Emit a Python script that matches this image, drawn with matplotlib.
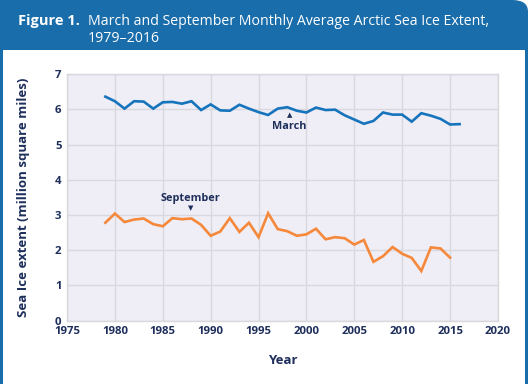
import matplotlib
matplotlib.use("Agg")
import matplotlib.pyplot as plt
from matplotlib.patches import FancyBboxPatch, Rectangle
from matplotlib.lines import Line2D

years_march = list(range(1979, 2017))
march = [6.36, 6.23, 6.02, 6.23, 6.22, 6.02, 6.20, 6.21, 6.16, 6.23,
         5.98, 6.14, 5.97, 5.96, 6.13, 6.02, 5.92, 5.84, 6.02, 6.06,
         5.96, 5.91, 6.05, 5.98, 5.99, 5.83, 5.71, 5.59, 5.67, 5.91,
         5.85, 5.85, 5.65, 5.89, 5.82, 5.73, 5.57, 5.58]
years_sept = list(range(1979, 2016))
september = [2.78, 3.04, 2.80, 2.87, 2.90, 2.74, 2.68, 2.91, 2.88, 2.90,
             2.72, 2.41, 2.53, 2.91, 2.52, 2.78, 2.37, 3.05, 2.60, 2.54,
             2.41, 2.45, 2.61, 2.31, 2.37, 2.34, 2.16, 2.29, 1.67, 1.83,
             2.09, 1.90, 1.78, 1.41, 2.08, 2.05, 1.79]
x_ticks = [1975, 1980, 1985, 1990, 1995, 2000, 2005, 2010, 2015, 2020]
y_ticks = [0, 1, 2, 3, 4, 5, 6, 7]

NAVY = "#1e2f5c"
HEADER = "#1a6dab"
BG = "#efedf5"
GRID = "#d9d8dc"
BLUE = "#1674bc"
ORANGE = "#f5883a"
FONT = ["Open Sans", "DejaVu Sans"]

fig = plt.figure(figsize=(5.28, 3.84), dpi=100)
fig.patch.set_facecolor("white")

# side borders
for xf in (0.002, 0.997):
    fig.add_artist(Line2D([xf, xf], [0, 0.95], transform=fig.transFigure,
                          color=HEADER, linewidth=2.2, zorder=0))
# header with rounded top-right corner
fig.add_artist(FancyBboxPatch((0.0, 0.870), 1.0, 0.130, boxstyle="round,pad=0,rounding_size=0.03",
                              transform=fig.transFigure, facecolor=HEADER, edgecolor="none", zorder=1))
fig.add_artist(Rectangle((0.0, 0.870), 0.5, 0.130, transform=fig.transFigure,
                         facecolor=HEADER, edgecolor="none", zorder=1))
fig.add_artist(Rectangle((0.0, 0.870), 1.0, 0.06, transform=fig.transFigure,
                         facecolor=HEADER, edgecolor="none", zorder=1))
fig.text(0.034, 0.945, "Figure 1.", color="white", fontsize=10.5, fontweight="bold",
         family=FONT, va="center", ha="left", zorder=2)
fig.text(0.166, 0.945, "March and September Monthly Average Arctic Sea Ice Extent,",
         color="white", fontsize=10.2, family=FONT, va="center", ha="left", zorder=2)
fig.text(0.166, 0.9, "1979\u20132016", color="white", fontsize=10.2, family=FONT,
         va="center", ha="left", zorder=2)

ax = fig.add_axes([0.127, 0.165, 0.816, 0.642])
ax.set_facecolor(BG)
ax.plot(years_march, march, color=BLUE, linewidth=1.9, solid_joinstyle="miter", zorder=3)
ax.plot(years_sept, september, color=ORANGE, linewidth=1.9, solid_joinstyle="miter", zorder=3)

ax.set_xlim(1975, 2020)
ax.set_ylim(0, 7)
ax.set_xticks(x_ticks)
ax.set_yticks(y_ticks)
ax.grid(True, color=GRID, linewidth=1)
ax.set_axisbelow(True)
for s in ax.spines.values():
    s.set_color(GRID)
    s.set_linewidth(1)
ax.tick_params(length=0, pad=4, colors=NAVY, labelsize=8.2)
for lab in ax.get_xticklabels() + ax.get_yticklabels():
    lab.set_fontweight("bold")
    lab.set_family(FONT)

ax.set_xlabel("Year", color=NAVY, fontsize=9.5, fontweight="bold", family=FONT, labelpad=12)
ax.set_ylabel("Sea Ice extent (million square miles)", color=NAVY, fontsize=9.5,
              fontweight="bold", family=FONT, labelpad=18)

ax.text(1998.2, 5.5, "March", color=NAVY, fontsize=7.8, fontweight="bold", family=FONT,
        ha="center", va="center")
ax.text(1998.2, 5.83, "\u25b2", color=NAVY, fontsize=5, ha="center", va="center",
        family=["DejaVu Sans"])
ax.text(1987.9, 3.48, "September", color=NAVY, fontsize=7.8, fontweight="bold", family=FONT,
        ha="center", va="center")
ax.text(1987.9, 3.2, "\u25bc", color=NAVY, fontsize=5, ha="center", va="center",
        family=["DejaVu Sans"])

fig.savefig("out.png", dpi=100, facecolor="white")
